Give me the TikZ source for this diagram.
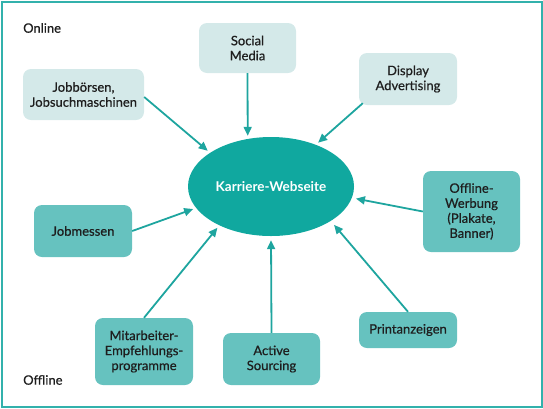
\documentclass[tikz,border=0pt]{standalone}
\usepackage{fontspec}
\setmainfont{Lato}
\newfontfamily\medfont{Lato}[FakeBold=0.6]
\usetikzlibrary{shapes.geometric,arrows.meta}
\definecolor{framec}{HTML}{33B1AC}
\definecolor{lightbox}{HTML}{D4E9E9}
\definecolor{darkbox}{HTML}{66C2BF}
\definecolor{ellc}{HTML}{10A89F}
\definecolor{arrc}{HTML}{1EA59F}
\definecolor{txt}{HTML}{1E1E1E}
\tikzset{
  basebox/.style={rounded corners=8pt, align=center, inner sep=0pt, text=txt,
    font=\medfont\fontsize{13}{15}\selectfont},
  lightnode/.style={basebox, fill=lightbox},
  darknode/.style={basebox, fill=darkbox},
  arr/.style={draw=arrc, line width=1.8pt, -{Triangle[length=9pt,width=8pt]}, shorten >=3pt},
  lbl/.style={anchor=west, inner sep=0pt, text=txt, font=\medfont\fontsize{13}{15}\selectfont}
}
\begin{document}
\begin{tikzpicture}[x=1pt,y=-1pt]
\useasboundingbox (0,0) rectangle (543,408);
\draw[framec, line width=2pt] (1.5,1.5) rectangle (541.5,406.5);

\node[lbl] (on) at (23,28) {Online};
\node[lbl] (off) at (23,380) {Offline};

\node[ellipse, fill=ellc, minimum width=166pt, minimum height=99pt, inner sep=0pt,
  text=white, font=\fontsize{13.5}{15}\selectfont\bfseries] (ke) at (271,186.5) {Karriere-Webseite};

\node[lightnode, minimum width=97pt, minimum height=50pt] (sm) at (247.5,48) {Social\\Media};
\node[lightnode, minimum width=121pt, minimum height=51pt] (jb) at (83.5,94.5) {Jobbörsen,\\Jobsuchmaschinen};
\node[lightnode, minimum width=98pt, minimum height=52pt] (da) at (408,79) {Display\\Advertising};

\node[darknode, minimum width=98pt, minimum height=52pt] (jm) at (83,231) {Jobmessen};
\node[darknode, minimum width=97pt, minimum height=81pt] (ow) at (471.5,211.5) {Offline-\\Werbung\\(Plakate,\\Banner)};
\node[darknode, minimum width=98pt, minimum height=67pt] (ma) at (144,351.5) {Mitarbeiter-\\Empfehlungs-\\programme};
\node[darknode, minimum width=97pt, minimum height=52pt] (as) at (271.5,359) {Active\\Sourcing};
\node[darknode, minimum width=98pt, minimum height=36pt] (pa) at (408,330) {Printanzeigen};

\draw[arr] (sm.south) -- (ke.116.6);
\draw[arr] ([yshift=-2.5pt]jb.east) -- (ke.151.7);
\draw[arr] ([xshift=4pt,yshift=2pt]da.south west) -- (ke.43.2);
\draw[arr] (jm.east) -- (ke.196.9);
\draw[arr] (ma.north) -- (ke.217.5);
\draw[arr, shorten >=4pt] (as.north) -- (ke.270);
\draw[arr, shorten >=4pt] (ow.west) -- (ke.352.8);
\draw[arr, shorten >=5pt] (pa.north) -- (ke.330.1);
\end{tikzpicture}
\end{document}
